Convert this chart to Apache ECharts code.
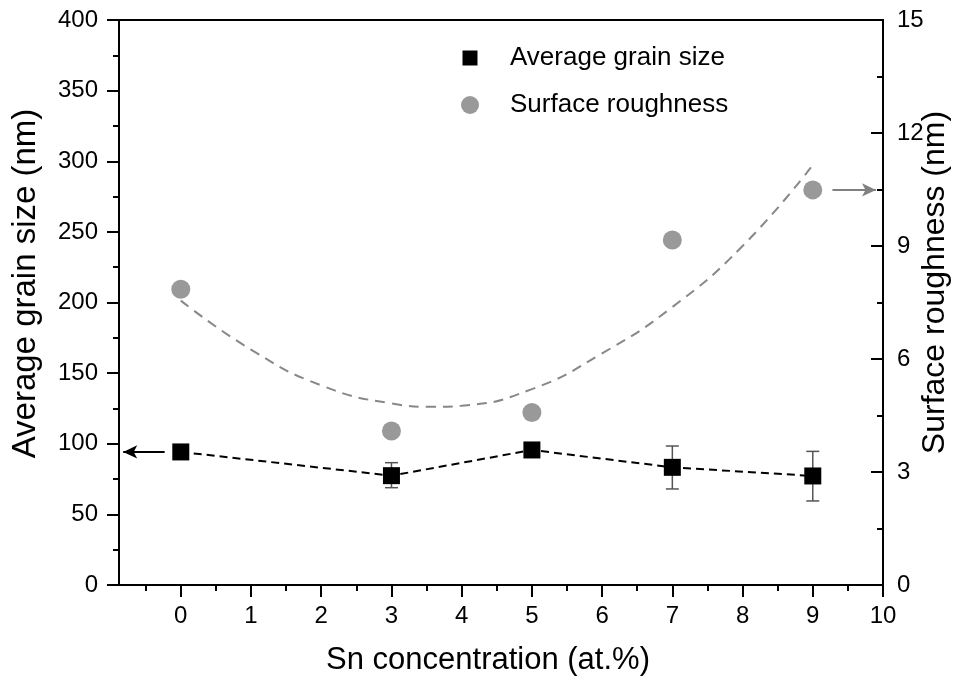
<!DOCTYPE html>
<html>
<head>
<meta charset="utf-8">
<script src="https://cdn.jsdelivr.net/npm/echarts@6/dist/echarts.min.js"></script>
<style>
html,body{margin:0;padding:0;background:#fff;}
#c{width:954px;height:684px;}
</style>
</head>
<body>
<div id="c"></div>
<script>
// ---- data ----
const snConc = [0, 3, 5, 7, 9];
const grainSize = [94.2, 77.4, 95.6, 83.3, 77.2];
const grainErrLow = [null, 68.9, null, 68.0, 59.5];
const grainErrHigh = [null, 86.6, null, 98.4, 94.6];
const roughness = [7.85, 4.09, 4.58, 9.16, 10.49];
// dashed fit curve
const fitX = [0, 1, 2, 3, 3.6, 4, 5, 6, 7, 8, 9];
const fitY = [7.55, 6.25, 5.3, 4.82, 4.73, 4.76, 5.2, 6.15, 7.38, 9.0, 11.15];
const xTicks = [0,1,2,3,4,5,6,7,8,9,10];
const xMinorTicks = [-0.5,0.5,1.5,2.5,3.5,4.5,5.5,6.5,7.5,8.5,9.5];
const legendNames = ['Average grain size', 'Surface roughness'];

const FONT = 'Liberation Sans';
const chart = echarts.init(document.getElementById('c'), null, {renderer:'canvas'});

const xMin = -0.88, xMax = 10;
const axisLine = {show:true, onZero:false, lineStyle:{color:'#000', width:2}};
const tickStyle = {width:2, color:'#000'};

const option = {
  animation:false,
  backgroundColor:'#fff',
  textStyle:{fontFamily:FONT},
  grid:{left:119, right:71, top:20, bottom:99, containLabel:false, outerBoundsMode:'none',
        show:true, borderColor:'#000', borderWidth:2, backgroundColor:'transparent'},
  legend:{
    orient:'vertical', left:456, top:38, itemWidth:18, itemHeight:18, itemGap:17,
    textStyle:{fontFamily:FONT, fontSize:26, color:'#000', lineHeight:30, padding:[0,0,0,26]},
    data:[{name:legendNames[0], icon:'path://M0,0M18,18M1.5,1.5h15v15h-15z'},{name:legendNames[1], icon:'circle'}]
  },
  xAxis:[{
    type:'value', min:xMin, max:xMax,
    name:'Sn concentration (at.%)', nameLocation:'middle', nameGap:60, nameMoveOverlap:false,
    nameTextStyle:{fontFamily:FONT, fontSize:31, color:'#000', padding:[0,26,0,0]},
    axisLine:axisLine,
    axisTick:{show:true, inside:false, length:12, customValues:xTicks, lineStyle:tickStyle},
    axisLabel:{show:true, customValues:xTicks, fontFamily:FONT, fontSize:24, color:'#000', margin:19},
    splitLine:{show:false}
  },{
    type:'value', min:xMin, max:xMax, position:'bottom',
    axisLine:{show:false, onZero:false},
    axisTick:{show:true, inside:false, length:6, customValues:xMinorTicks, lineStyle:tickStyle},
    axisLabel:{show:false, customValues:xMinorTicks},
    splitLine:{show:false}
  }],
  yAxis:[{
    type:'value', min:0, max:400, interval:50, position:'left',
    name:'Average grain size (nm)', nameLocation:'middle', nameGap:77, nameRotate:90, nameMoveOverlap:false,
    nameTextStyle:{fontFamily:FONT, fontSize:33, color:'#000', padding:[0,0,0,38]},
    axisLine:axisLine,
    axisTick:{show:true, inside:false, length:12, lineStyle:tickStyle},
    minorTick:{show:true, splitNumber:2, length:6, lineStyle:tickStyle},
    axisLabel:{fontFamily:FONT, fontSize:24, color:'#000', margin:21},
    splitLine:{show:false}
  },{
    type:'value', min:0, max:15, interval:3, position:'right',
    name:'Surface roughness (nm)', nameLocation:'middle', nameGap:36, nameRotate:90, nameMoveOverlap:false,
    nameTextStyle:{fontFamily:FONT, fontSize:32, color:'#000', padding:[0,0,0,40]},
    axisLine:axisLine,
    axisTick:{show:true, inside:true, length:12, lineStyle:tickStyle},
    minorTick:{show:true, splitNumber:2, length:6, lineStyle:tickStyle},
    axisLabel:{fontFamily:FONT, fontSize:24, color:'#000', margin:14},
    splitLine:{show:false}
  }],
  series:[
    {
      name:'fit', type:'line', xAxisIndex:0, yAxisIndex:1, smooth:true,
      data:fitX.map((x,i)=>[x,fitY[i]]), showSymbol:false, symbol:'none',
      lineStyle:{color:'#888', width:2, type:[10,7]}, z:1, silent:true
    },
    {
      name:'errbars', type:'custom', xAxisIndex:0, yAxisIndex:0, z:2,
      data:snConc.map((x,i)=>[x,grainErrLow[i],grainErrHigh[i]]).filter(d=>d[1]!=null),
      renderItem:function(params, api){
        const lo = api.coord([api.value(0), api.value(1)]);
        const hi = api.coord([api.value(0), api.value(2)]);
        const w = 6.5;
        const st = {stroke:'#555', lineWidth:1.5};
        return {type:'group', children:[
          {type:'line', shape:{x1:lo[0],y1:lo[1],x2:hi[0],y2:hi[1]}, style:st},
          {type:'line', shape:{x1:lo[0]-w,y1:lo[1],x2:lo[0]+w,y2:lo[1]}, style:st},
          {type:'line', shape:{x1:hi[0]-w,y1:hi[1],x2:hi[0]+w,y2:hi[1]}, style:st}
        ]};
      }
    },
    {
      name:legendNames[0], type:'line', xAxisIndex:0, yAxisIndex:0, z:3,
      data:snConc.map((x,i)=>[x,grainSize[i]]),
      symbol:'rect', symbolSize:17,
      itemStyle:{color:'#000'},
      lineStyle:{color:'#000', width:2, type:[8,5]},
      markLine:{
        silent:true, symbol:['none','arrow'], symbolSize:[10,14],
        label:{show:false},
        lineStyle:{color:'#000', width:2, type:'solid'},
        data:[[{coord:[-0.23, grainSize[0]]},{coord:[-0.82, grainSize[0]]}]]
      }
    },
    {
      name:legendNames[1], type:'scatter', xAxisIndex:0, yAxisIndex:1, z:3,
      data:snConc.map((x,i)=>[x,roughness[i]]),
      symbol:'circle', symbolSize:19,
      itemStyle:{color:'#808080'},
      markLine:{
        silent:true, symbol:['none','arrow'], symbolSize:[10,14],
        label:{show:false},
        lineStyle:{color:'#808080', width:2, type:'solid'},
        data:[[{coord:[9.28, roughness[4]]},{coord:[9.9, roughness[4]]}]]
      }
    }
  ]
};
chart.setOption(option);
</script>
</body>
</html>
